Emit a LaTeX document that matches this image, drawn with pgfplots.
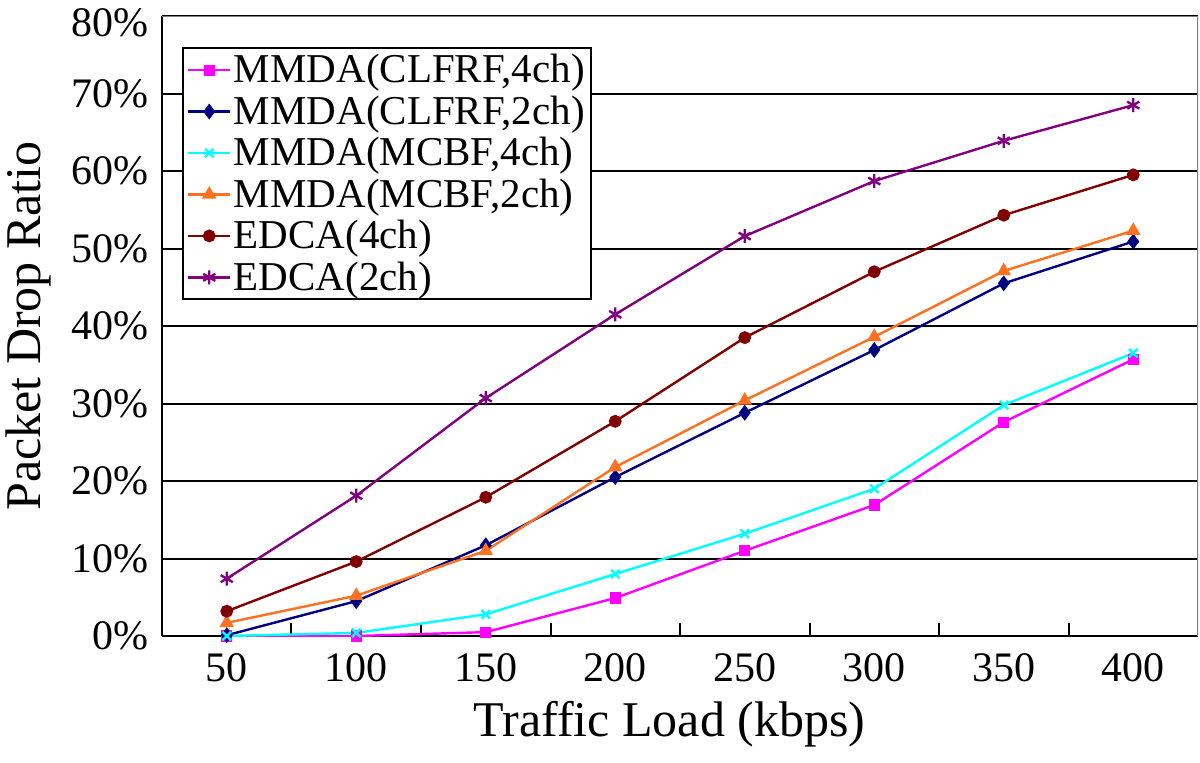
\documentclass[border=0pt]{standalone}
\usepackage{fontspec}
\setmainfont{Liberation Serif}
\usepackage{pgfplots}
\pgfplotsset{compat=1.18}
\definecolor{cMag}{RGB}{255,0,255}
\definecolor{cNavy}{RGB}{0,0,128}
\definecolor{cCyan}{RGB}{0,255,255}
\definecolor{cOrange}{RGB}{255,112,32}
\definecolor{cBrown}{RGB}{128,0,0}
\definecolor{cPurple}{RGB}{128,0,128}
\begin{document}
\begin{tikzpicture}
\useasboundingbox (-81pt,-63pt) rectangle (519pt,318pt);
\begin{axis}[
  scale only axis, width=518pt, height=310pt,
  xmin=25, xmax=425, ymin=0, ymax=80,
  axis x line*=bottom, axis y line*=left,
  axis line style={line width=1pt, -},
  /pgf/number format/assume math mode=true,
  xtick={50,100,...,400},
  xticklabel={\pgfmathprintnumber{\tick}},
  minor xtick={75,125,...,375},
  major x tick style={draw=none},
  minor tick length=6.5pt,
  minor tick style={black, line width=1pt},
  tick align=inside,
  ytick={0,10,...,70},
  yticklabel={\pgfmathprintnumber{\tick}\%},
  extra y ticks={80},
  extra y tick labels={80\%},
  extra y tick style={yticklabel style={yshift=-3.5pt}},
  major y tick style={draw=none},
  ymajorgrids, grid style={black, line width=1pt},
  ticklabel style={font=\fontsize{21}{25}\selectfont},
  xticklabel style={yshift=-5pt},
  yticklabel style={xshift=-3pt},
  xlabel={Traffic Load (kbps)},
  ylabel={Packet Drop Ratio},
  label style={font=\fontsize{25}{30}\selectfont},
  xlabel style={at={(axis description cs:0.49,0)}, anchor=base, yshift=-50pt},
  ylabel style={at={(axis description cs:-0.1168,0.5)}, anchor=base},
  legend style={at={(axis description cs:0.0193,0.95)}, anchor=north west,
    draw=black, line width=1pt, font=\fontsize{20.5}{24}\selectfont,
    inner sep=2pt, row sep=2.6pt, nodes={inner sep=1.2pt}},
  legend cell align=left,
  legend image code/.code={\draw[mark repeat=2,mark phase=2] plot coordinates {(0cm,0cm) (0.37cm,0cm) (0.74cm,0cm)};},
  every axis plot/.append style={line width=1.2pt},
]
\addplot[cMag, mark=square*, mark size=2.2pt] coordinates {(50,0)(100,0)(150,0.5)(200,4.9)(250,11.0)(300,16.9)(350,27.6)(400,35.7)};
\addlegendentry{MMDA(CLFRF,4ch)}
\addplot[cNavy, mark=diamond*, mark size=3pt] coordinates {(50,0.1)(100,4.5)(150,11.7)(200,20.5)(250,28.8)(300,36.9)(350,45.5)(400,50.9)};
\addlegendentry{MMDA(CLFRF,2ch)}
\addplot[cCyan, mark=x, mark size=3pt] coordinates {(50,0)(100,0.4)(150,2.8)(200,8.0)(250,13.2)(300,19.0)(350,29.8)(400,36.5)};
\addlegendentry{MMDA(MCBF,4ch)}
\addplot[cOrange, mark=triangle*, mark size=3pt] coordinates {(50,1.7)(100,5.2)(150,11.0)(200,21.8)(250,30.4)(300,38.6)(350,47.1)(400,52.3)};
\addlegendentry{MMDA(MCBF,2ch)}
\addplot[cBrown, mark=*, mark size=2.6pt] coordinates {(50,3.2)(100,9.6)(150,17.9)(200,27.7)(250,38.5)(300,47.0)(350,54.3)(400,59.5)};
\addlegendentry{EDCA(4ch)}
\addplot[cPurple, mark=asterisk, mark size=3.5pt] coordinates {(50,7.4)(100,18.1)(150,30.7)(200,41.5)(250,51.6)(300,58.7)(350,63.9)(400,68.5)};
\addlegendentry{EDCA(2ch)}
\draw[gray, line width=1pt] (rel axis cs:0,1) -- (rel axis cs:1,1) -- (rel axis cs:1,0);
\end{axis}
\end{tikzpicture}
\end{document}
